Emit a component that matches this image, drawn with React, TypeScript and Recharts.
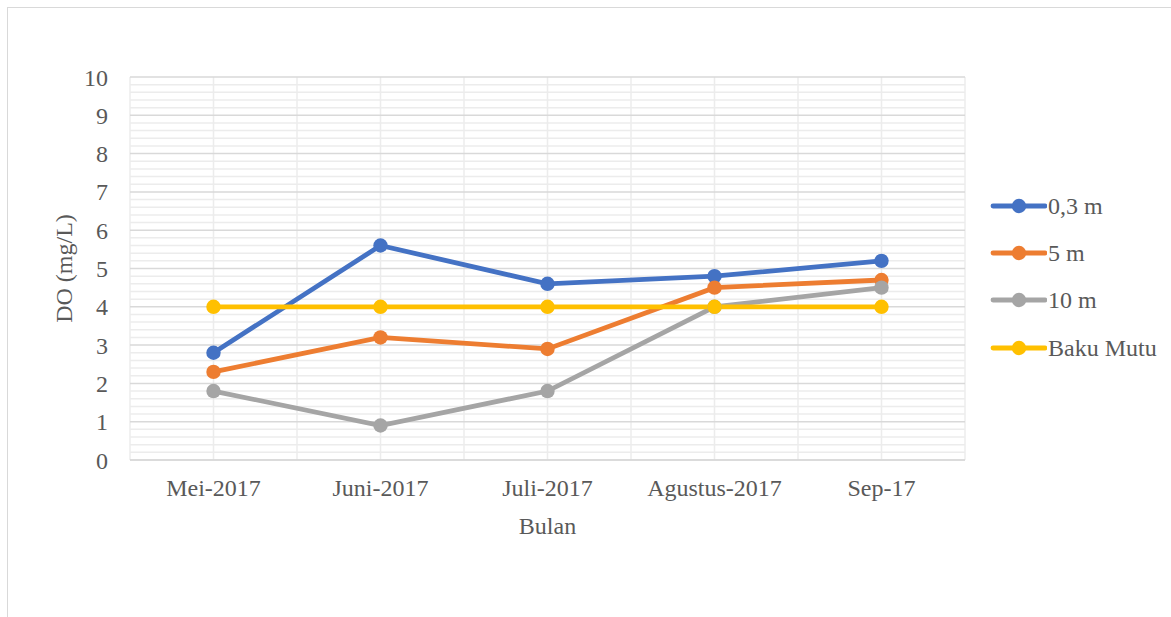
import React from 'react';
import { LineChart, Line, XAxis, YAxis, CartesianGrid, Legend } from 'recharts';

const categories = ['Mei-2017', 'Juni-2017', 'Juli-2017', 'Agustus-2017', 'Sep-17'];
const depth03 = [2.8, 5.6, 4.6, 4.8, 5.2];
const depth5 = [2.3, 3.2, 2.9, 4.5, 4.7];
const depth10 = [1.8, 0.9, 1.8, 4.0, 4.5];
const bakuMutu = [4, 4, 4, 4, 4];
const yTicks = [0, 1, 2, 3, 4, 5, 6, 7, 8, 9, 10];
const yMinorTicks = [
  0.2, 0.4, 0.6, 0.8, 1.2, 1.4, 1.6, 1.8, 2.2, 2.4, 2.6, 2.8, 3.2, 3.4, 3.6, 3.8,
  4.2, 4.4, 4.6, 4.8, 5.2, 5.4, 5.6, 5.8, 6.2, 6.4, 6.6, 6.8, 7.2, 7.4, 7.6, 7.8,
  8.2, 8.4, 8.6, 8.8, 9.2, 9.4, 9.6, 9.8,
];
const xHalfTicks = [0, 1, 2, 3, 4, 5, 6, 7, 8, 9, 10];

const seriesMeta = [
  { key: 's03', name: '0,3 m', color: '#4472C4' },
  { key: 's5', name: '5 m', color: '#ED7D31' },
  { key: 's10', name: '10 m', color: '#A5A5A5' },
  { key: 'baku', name: 'Baku Mutu', color: '#FFC000' },
];

const data = categories.map((c, i) => ({
  cat: c,
  s03: depth03[i],
  s5: depth5[i],
  s10: depth10[i],
  baku: bakuMutu[i],
}));

const FONT = '"Liberation Serif", "Times New Roman", serif';
const TEXT = '#595959';

const minorHorizontal = (props: any) => {
  const { yAxis, offset } = props;
  if (yAxis && typeof yAxis.scale === 'function') {
    return yMinorTicks.map((v) => yAxis.scale(v));
  }
  return yMinorTicks.map((v) => offset.top + offset.height * (1 - v / 10));
};

const minorVertical = (props: any) => {
  const { offset } = props;
  return xHalfTicks.map((v) => offset.left + (offset.width * v) / 10);
};

const LegendContent = () => (
  <div style={{ fontFamily: FONT, fontSize: 24, color: TEXT }}>
    {seriesMeta.map((s) => (
      <div key={s.key} style={{ display: 'flex', alignItems: 'center', height: 47.3 }}>
        <svg width={58} height={20} style={{ display: 'block' }}>
          <line x1={4} y1={10} x2={56} y2={10} stroke={s.color} strokeWidth={4.8} strokeLinecap="round" />
          <circle cx={30} cy={10} r={7.2} fill={s.color} />
        </svg>
        <span style={{ marginLeft: 1, lineHeight: '24px' }}>{s.name}</span>
      </div>
    ))}
  </div>
);

export default function App() {
  return (
    <div style={{ position: 'fixed', left: 0, top: 0, width: 1171, height: 617, background: '#fff' }}>
      <div
        style={{
          position: 'absolute',
          left: 7,
          top: 7,
          width: 1200,
          height: 700,
          border: '1.5px solid #d9d9d9',
          boxSizing: 'border-box',
        }}
      />
      <div style={{ position: 'absolute', left: 0, top: 0 }}>
        <LineChart
          width={1171}
          height={617}
          data={data}
          margin={{ top: 77, right: 206, bottom: 77, left: 30 }}
        >
          <CartesianGrid
            yAxisId="main"
            stroke="#ececec"
            strokeWidth={1.5}
            horizontalCoordinatesGenerator={minorHorizontal}
            verticalCoordinatesGenerator={minorVertical}
          />
          <CartesianGrid yAxisId="main" stroke="#d9d9d9" strokeWidth={1.5} vertical={false} />
          <XAxis
            dataKey="cat"
            scale="band"
            height={80}
            axisLine={{ stroke: '#d9d9d9', strokeWidth: 1.5 }}
            tickLine={false}
            tickMargin={13}
            tick={{ fill: TEXT, fontSize: 24, fontFamily: FONT }}
            interval={0}
            label={{ value: 'Bulan', position: 'insideBottom', offset: 6, fill: TEXT, fontSize: 24, fontFamily: FONT }}
          />
          <YAxis
            yAxisId="main"
            type="number"
            domain={[0, 10]}
            ticks={yTicks}
            width={100}
            axisLine={false}
            tickLine={false}
            tickMargin={16}
            tick={{ fill: TEXT, fontSize: 24, fontFamily: FONT }}
            label={{
              value: 'DO (mg/L)',
              angle: -90,
              position: 'insideLeft',
              offset: 33,
              fill: TEXT,
              fontSize: 24,
              fontFamily: FONT,
              style: { textAnchor: 'middle' },
            }}
          />
          <Legend
            layout="horizontal"
            align="center"
            verticalAlign="middle"
            content={<LegendContent />}
            wrapperStyle={{ left: 989, top: 182, width: 180 }}
          />
          {seriesMeta.map((s) => (
            <Line
              key={s.key}
              yAxisId="main"
              dataKey={s.key}
              name={s.name}
              stroke={s.color}
              strokeWidth={4.8}
              dot={{ r: 7.2, fill: s.color, stroke: s.color, strokeWidth: 0 }}
              activeDot={false}
              isAnimationActive={false}
            />
          ))}
        </LineChart>
      </div>
    </div>
  );
}
